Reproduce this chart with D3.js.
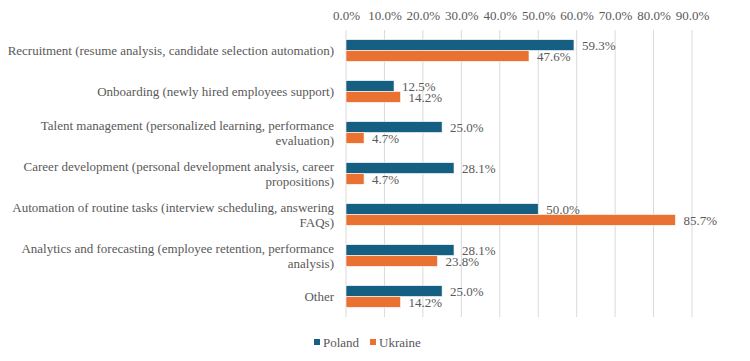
<!DOCTYPE html>
<html>
<head>
<meta charset="utf-8">
<script src="https://cdn.jsdelivr.net/npm/d3@7"></script>
<style>
  body { margin: 0; background: #fff; }
  svg text { font-family: "Liberation Serif", Tinos, "DejaVu Serif", serif; fill: #595959; }
</style>
</head>
<body>
<script>
'use strict';

// chart data
const categories = [
  "Recruitment (resume analysis, candidate selection automation)",
  "Onboarding (newly hired employees support)",
  "Talent management (personalized learning, performance evaluation)",
  "Career development (personal development analysis, career propositions)",
  "Automation of routine tasks (interview scheduling, answering FAQs)",
  "Analytics and forecasting (employee retention, performance analysis)",
  "Other"
];
const seriesNames = ["Poland", "Ukraine"];
const poland = [59.3, 12.5, 25.0, 28.1, 50.0, 28.1, 25.0];
const ukraine = [47.6, 14.2, 4.7, 4.7, 85.7, 23.8, 14.2];
const tickValues = [0, 10, 20, 30, 40, 50, 60, 70, 80, 90];
const colors = ["#156082", "#E97132"];

const FONT = "'Liberation Serif', Tinos, 'DejaVu Serif', serif";
const width = 750, height = 361;
const svg = d3.select("body").append("svg")
  .attr("width", width)
  .attr("height", height)
  .attr("font-family", FONT);

const x = d3.scaleLinear().domain([0, 90]).range([346, 692]);
const y = d3.scaleBand().domain(categories).range([30, 317])
  .paddingInner(0.47).paddingOuter(0.235);
const ySub = d3.scaleBand().domain(seriesNames).range([0, y.bandwidth()]);

// gridlines
svg.append("g").selectAll("line")
  .data(tickValues)
  .join("line")
  .attr("x1", d => x(d)).attr("x2", d => x(d))
  .attr("y1", 30).attr("y2", 317)
  .attr("stroke", "#d9d9d9").attr("stroke-width", 1);

// top axis labels
const xAxis = d3.axisTop(x).tickValues(tickValues)
  .tickFormat(d => d.toFixed(1) + "%").tickSize(0).tickPadding(0);
const ax = svg.append("g").attr("transform", "translate(0,20)").call(xAxis)
  .attr("font-family", FONT);
ax.select(".domain").remove();
ax.selectAll("text")
  .style("font-family", FONT)
  .style("font-size", "13px")
  .attr("fill", "#595959");

// bars
const rows = categories.map((c, i) => ({ cat: c, vals: [poland[i], ukraine[i]] }));
const groups = svg.append("g").selectAll("g")
  .data(rows)
  .join("g")
  .attr("transform", d => `translate(0,${y(d.cat)})`);

groups.selectAll("rect")
  .data(d => d.vals.map((v, j) => ({ v: v, s: seriesNames[j], j: j })))
  .join("rect")
  .attr("x", x(0))
  .attr("y", d => ySub(d.s))
  .attr("width", d => x(d.v) - x(0))
  .attr("height", ySub.bandwidth())
  .attr("fill", d => colors[d.j])
  .attr("stroke", "#ffffff").attr("stroke-width", 0.6);

groups.selectAll("text.val")
  .data(d => d.vals.map((v, j) => ({ v: v, s: seriesNames[j] })))
  .join("text")
  .attr("class", "val")
  .attr("x", d => x(d.v) + 8)
  .attr("y", d => ySub(d.s) + ySub.bandwidth() / 2 + 5)
  .style("font-size", "13px")
  .text(d => d.v.toFixed(1) + "%");

// category labels with wrapping
const labels = svg.append("g").selectAll("text")
  .data(categories)
  .join("text")
  .attr("text-anchor", "end")
  .style("font-size", "13px");

labels.each(function(d) {
  const t = d3.select(this);
  const words = d.split(" ");
  const lines = [];
  let line = [];
  const probe = t.append("tspan");
  words.forEach(w => {
    line.push(w);
    probe.text(line.join(" "));
    if (probe.node().getComputedTextLength() > 330 && line.length > 1) {
      line.pop();
      lines.push(line.join(" "));
      line = [w];
    }
  });
  lines.push(line.join(" "));
  probe.remove();
  const lh = 15;
  const cy = y(d) + y.bandwidth() / 2;
  const top = cy - (lines.length - 1) * lh / 2 + 4.5;
  lines.forEach((l, k) => {
    t.append("tspan").attr("x", 334).attr("y", top + k * lh).text(l);
  });
});

// legend
const legend = svg.append("g").attr("transform", "translate(314,343)");
const lx = [0, 56];
seriesNames.forEach((s, i) => {
  legend.append("rect")
    .attr("x", lx[i]).attr("y", -4)
    .attr("width", 6).attr("height", 6)
    .attr("fill", colors[i]);
  legend.append("text")
    .attr("x", lx[i] + 9).attr("y", 4)
    .style("font-size", "13px")
    .text(s);
});
</script>
</body>
</html>
